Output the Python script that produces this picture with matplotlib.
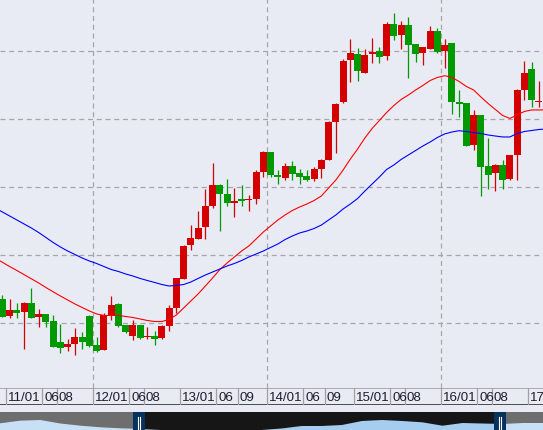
import matplotlib
matplotlib.use("Agg")
import matplotlib.pyplot as plt  # noqa: E402
import numpy as np  # noqa: E402
import pandas as pd  # noqa: E402
from matplotlib.patches import Rectangle  # noqa: E402

BG = "#e8ebf4"
UP, DOWN = "#d40000", "#009900"
GRID = "#a6a6a6"

# monthly candles, first one is Dec 2010 (partly cut at the left edge)
first_month = "2010-12"
opens = [83.60, 81.15, 81.98, 81.73, 83.01, 81.00, 81.40, 80.37, 77.28, 76.59, 77.03, 78.01,
         81.10, 76.84, 76.15, 81.25, 82.87, 79.78, 78.21, 79.78, 78.01, 78.16, 77.87, 79.63,
         82.28, 86.54, 91.54, 92.43, 94.19, 97.28, 100.37, 99.04, 97.72, 98.31, 98.16, 98.31,
         102.35, 105.22, 101.84, 101.40, 103.16, 102.13, 101.69, 101.25, 102.72, 104.04, 109.63,
         112.57, 118.75, 119.63, 116.84, 119.63, 120.07, 119.34, 124.04, 122.43, 123.90, 121.10,
         119.78, 120.37, 123.01, 120.07, 121.25, 112.57, 112.43, 106.25, 110.66, 103.16, 102.13,
         103.31, 101.25, 104.78, 114.34, 117.43, 112.57, 112.72]
highs = [84.19, 83.60, 83.01, 83.16, 85.22, 82.13, 81.40, 81.25, 79.93, 77.72, 79.34, 78.75,
         81.25, 78.01, 81.54, 84.04, 83.01, 79.78, 80.51, 79.78, 79.48, 78.90, 79.78, 82.72,
         86.69, 91.54, 94.48, 96.54, 99.78, 103.60, 100.51, 101.25, 99.93, 100.37, 98.90, 102.57,
         105.37, 105.22, 102.57, 103.60, 103.90, 102.72, 102.57, 103.01, 104.19, 109.78, 112.43,
         118.90, 121.84, 120.51, 120.37, 121.99, 120.66, 124.34, 125.66, 124.49, 125.07, 121.10,
         120.66, 123.75, 123.46, 121.84, 121.25, 114.34, 112.43, 111.40, 110.66, 107.28, 103.46,
         104.04, 104.78, 114.49, 118.60, 118.46, 115.66, 113.75]
lows = [80.96, 80.81, 80.85, 76.29, 80.85, 79.53, 79.53, 76.59, 75.71, 76.00, 75.41, 76.29,
        76.54, 75.76, 76.15, 80.51, 79.48, 78.60, 77.57, 77.72, 77.72, 76.84, 77.72, 78.90,
        81.54, 86.54, 90.81, 92.43, 92.43, 96.98, 93.60, 97.28, 95.66, 97.28, 96.54, 97.57,
        101.54, 101.54, 100.51, 101.10, 101.10, 100.51, 100.96, 100.96, 101.40, 104.04, 105.07,
        112.43, 115.51, 115.66, 116.84, 118.31, 118.31, 118.75, 121.69, 120.37, 116.10, 118.46,
        118.01, 120.37, 119.78, 117.57, 110.81, 110.37, 106.10, 105.51, 98.75, 99.78, 99.49,
        99.78, 101.10, 101.10, 112.87, 111.84, 111.84, 111.25]
closes = [80.96, 81.98, 81.59, 83.01, 80.85, 81.40, 80.26, 76.59, 76.44, 76.99, 78.01, 77.32,
          76.69, 76.00, 81.25, 82.72, 79.63, 78.75, 79.78, 77.87, 78.16, 77.72, 79.63, 82.28,
          86.69, 91.40, 92.57, 94.04, 97.28, 100.37, 99.04, 97.72, 98.01, 98.01, 98.31, 102.28,
          105.26, 101.84, 101.54, 103.16, 101.99, 101.54, 101.10, 102.72, 104.04, 109.63, 112.28,
          118.60, 119.78, 117.13, 119.49, 119.93, 119.19, 124.04, 122.28, 123.90, 120.96, 119.63,
          120.66, 123.01, 119.93, 120.96, 112.57, 112.28, 106.10, 110.66, 103.01, 101.84, 103.31,
          101.10, 104.78, 114.34, 116.84, 112.87, 112.72, 111.25]

# moving averages as drawn, starting one month before the first candle (Nov 2010)
ma_first_month = "2010-11"
ma_fast = [89.63, 89.00, 88.38, 87.79, 87.18, 86.57, 85.96, 85.29, 84.66, 84.04, 83.46, 82.87,
           82.35, 81.84, 81.40, 81.18, 81.18, 81.18, 81.03, 80.88, 80.66, 80.44, 80.29, 80.29,
           80.59, 81.25, 82.28, 83.31, 84.34, 85.51, 86.69, 87.94, 88.90, 89.78, 90.66, 91.40,
           92.43, 93.46, 94.34, 95.22, 95.96, 96.62, 97.13, 97.57, 98.09, 98.75, 99.93, 101.10,
           102.57, 104.19, 105.66, 107.28, 108.68, 109.85, 111.03, 112.06, 112.94, 113.60, 114.34,
           115.00, 115.73, 116.18, 116.44, 116.18, 115.59, 114.85, 114.34, 113.31, 112.35, 111.47,
           110.59, 110.15, 110.66, 111.18, 111.40, 111.40, 111.43]
ma_slow = [96.98, 96.40, 95.81, 95.22, 94.63, 94.04, 93.38, 92.65, 91.91, 91.25, 90.66, 90.15,
           89.63, 89.19, 88.82, 88.38, 87.94, 87.65, 87.28, 86.98, 86.62, 86.32, 86.03, 85.73,
           85.51, 85.59, 85.73, 86.10, 86.62, 87.13, 87.57, 88.01, 88.46, 88.82, 89.26, 89.78,
           90.22, 90.66, 91.18, 91.69, 92.35, 92.87, 93.31, 93.60, 93.97, 94.48, 95.22, 95.96,
           96.84, 97.57, 98.38, 99.48, 100.51, 101.54, 102.65, 103.31, 104.12, 104.78, 105.44,
           106.10, 106.69, 107.35, 107.87, 108.16, 108.35, 108.23, 108.09, 107.94, 107.72, 107.57,
           107.43, 107.43, 107.94, 108.23, 108.38, 108.53, 108.60]

tick_months = ["2011-01", "2011-06", "2011-08", "2012-01", "2012-06", "2012-08",
               "2013-01", "2013-06", "2013-09", "2014-01", "2014-06", "2014-09",
               "2015-01", "2015-06", "2015-08", "2016-01", "2016-06", "2016-08", "2017-01"]
tick_labels = ["11/01", "06", "08", "12/01", "06", "08", "13/01", "06", "09", "14/01",
               "06", "09", "15/01", "06", "08", "16/01", "06", "08", "17/01"]
grid_prices = [80, 90, 100, 110, 120]
grid_months = ["2012-01", "2014-01", "2016-01"]

# overview strip under the chart (whole history, window = visible range)
nav_level = [6.7, 9.3, 10.0, 6.5, 4.3, 2.7, 1.7, 1.0, 0, 0, 0, 0, 0, 0,
             1.5, 4.0, 4.0, 5.0, 9.0, 10.0, 9.0, 7.7, 4.3, 7.0, 6.5, 6.0, 7.0, 7.0]
nav_window = (139, 500)


def mpos(m):
    """months since 2011-01"""
    return (pd.Period(m, "M") - pd.Period("2011-01", "M")).n


xs = mpos(first_month) + np.arange(len(opens))
xm = mpos(ma_first_month) + np.arange(len(ma_fast))
o, h, l, c = map(np.array, (opens, highs, lows, closes))
up = c >= o
col = np.where(up, UP, DOWN)

fig = plt.figure(figsize=(5.43, 4.31), dpi=100)
fig.patch.set_facecolor(BG)

ax = fig.add_axes([0, 42 / 431, 1, 389 / 431])
ax.set_facecolor(BG)
ax.set_xlim(-1.3276, 73.569)
ax.set_ylim(70.51, 127.72)
for s in ax.spines.values():
    s.set_visible(False)
ax.set_xticks([])
ax.set_yticks([])

for p in grid_prices:
    ax.axhline(p, color=GRID, lw=0.9, ls=(0, (4, 3)), zorder=0)
for m in grid_months:
    ax.axvline(mpos(m) - 0.5, color=GRID, lw=0.9, ls=(0, (4, 3)), zorder=0)

ax.vlines(xs, l, h, colors=col, lw=0.9, zorder=2)
body = np.maximum(np.abs(c - o), 0.15)
ax.bar(xs, body, bottom=np.minimum(o, c), width=0.96, color=col, lw=0, zorder=3)

ax.plot(xm, ma_fast, color="#ff0000", lw=0.8, zorder=4)
ax.plot(xm, ma_slow, color="#0000ff", lw=0.8, zorder=4)

# date strip
lab = fig.add_axes([0, 25 / 431, 1, 17 / 431], sharex=ax)
lab.set_facecolor(BG)
lab.set_ylim(0, 1)
for s in lab.spines.values():
    s.set_visible(False)
lab.tick_params(left=False, bottom=False, labelleft=False, labelbottom=False)
lab.axhline(1, color="#a0a0a0", lw=1.2)
lab.axhline(0, color="#303030", lw=1.2)
for m, t in zip(tick_months, tick_labels):
    x = mpos(m) - 0.5
    lab.axvline(x, color="#a0a0a0", lw=0.9)
    lab.text(x + 0.25, 0.45, t, fontsize=9.6, family="Liberation Sans", color="#1e1e2e",
             ha="left", va="center", clip_on=True)

# overview navigator
nav = fig.add_axes([0, 0, 1, 18 / 431])
nav.set_xlim(0, 543)
nav.set_ylim(0, 18)
nav.set_axis_off()
wl, wr = nav_window
nav.add_patch(Rectangle((0, 0), 543, 18, color="#6e6e6e", lw=0))
nav.add_patch(Rectangle((wl, 0), wr - wl, 18, color="#161616", lw=0))
nav_x = np.linspace(0, 543, len(nav_level))
for x0, x1, cc in [(0, wl, "#c8e0f5"), (wl, wr, "#a4cdef"), (wr, 543, "#c8e0f5")]:
    poly = nav.fill_between(nav_x, 0, nav_level, color=cc, lw=0)
    poly.set_clip_path(Rectangle((x0, 0), x1 - x0, 18, transform=nav.transData))
for xc in nav_window:
    nav.add_patch(Rectangle((xc - 6, 0), 12, 18, color="#08325e", lw=0))
    nav.plot([xc - 1.3, xc - 1.3], [1, 13], color="white", lw=0.8)
    nav.plot([xc + 1.3, xc + 1.3], [1, 13], color="white", lw=0.8)

fig.savefig("out.png", dpi=100, facecolor=BG)
